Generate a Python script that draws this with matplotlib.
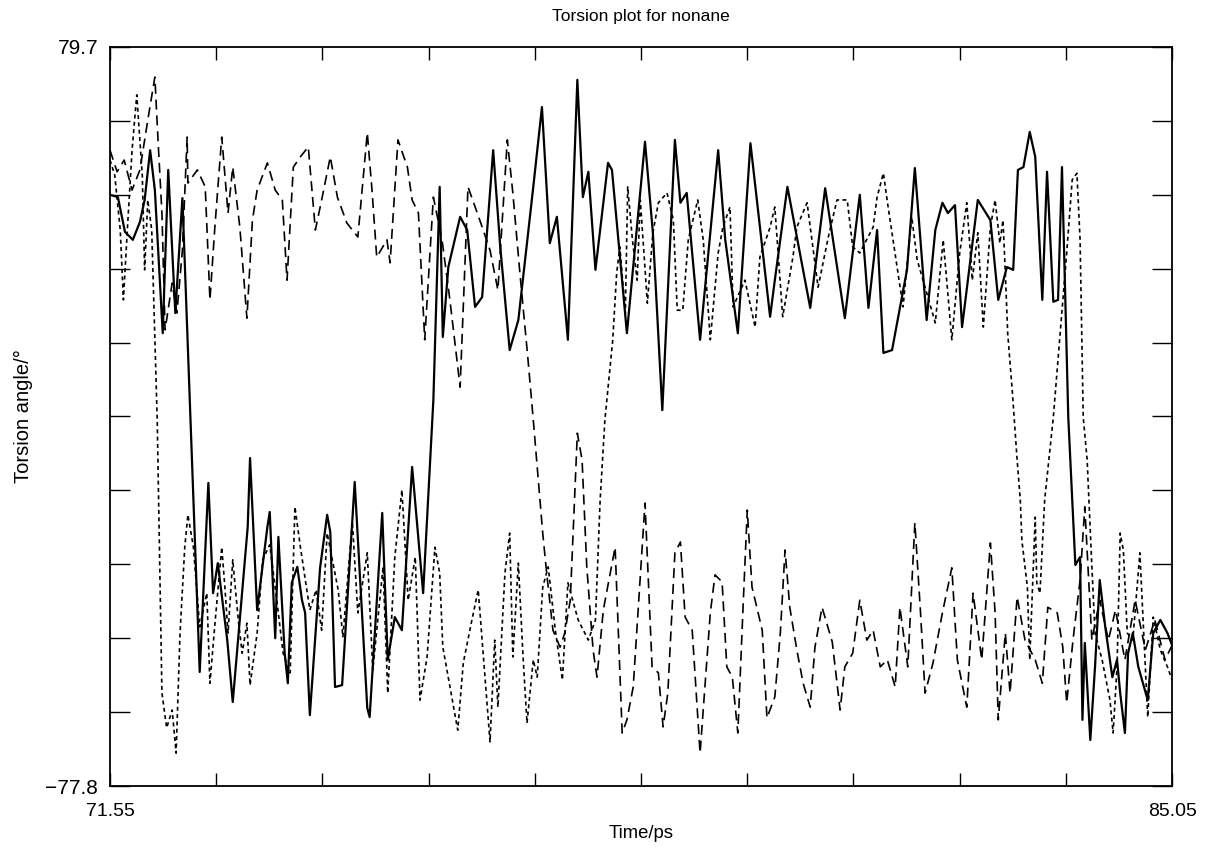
import matplotlib
matplotlib.use("Agg")
import matplotlib.pyplot as plt

# Torsion angles (degrees) of three C-C-C-C dihedrals of nonane vs time (ps),
# read off the original trajectory plot.

solid_t = [71.55, 71.65, 71.74, 71.84, 71.93, 71.99, 72.06, 72.12, 72.22, 72.29,
           72.38, 72.47, 72.69, 72.80, 72.86, 72.92, 73.04, 73.11, 73.30, 73.33,
           73.42, 73.55, 73.58, 73.65, 73.69, 73.77, 73.81, 73.86, 73.93, 73.99,
           74.03, 74.09, 74.22, 74.31, 74.35, 74.41, 74.50, 74.66, 74.82, 74.85,
           75.01, 75.08, 75.17, 75.26, 75.39, 75.53, 75.66, 75.74, 75.78, 75.85,
           76.00, 76.09, 76.19, 76.28, 76.42, 76.51, 76.63, 76.74, 76.93, 77.04,
           77.14, 77.23, 77.37, 77.49, 77.56, 77.63, 77.72, 77.88, 77.93, 78.12,
           78.35, 78.45, 78.57, 78.73, 78.80, 78.88, 79.05, 79.28, 79.37, 79.53,
           79.69, 79.94, 80.00, 80.16, 80.45, 80.64, 80.89, 81.08, 81.19, 81.30,
           81.38, 81.49, 81.68, 81.78, 81.93, 82.04, 82.13, 82.20, 82.29, 82.38,
           82.58, 82.74, 82.84, 82.95, 83.03, 83.09, 83.16, 83.24, 83.31, 83.40,
           83.46, 83.54, 83.60, 83.65, 83.73, 83.82, 83.88, 83.91, 83.94, 84.01,
           84.07, 84.13, 84.20, 84.29, 84.35, 84.39, 84.45, 84.49, 84.55, 84.62,
           84.74, 84.81, 84.90, 84.99, 85.05]
solid_a = [48.2, 47.7, 40.3, 38.6, 42.4, 47.1, 57.7, 49.2, 18.7, 53.5,
           23.0, 47.5, -53.5, -13.2, -36.7, -30.3, -46.7, -59.9, -22.6, -7.9,
           -40.3, -22.6, -19.4, -46.3, -24.7, -49.5, -55.9, -34.5, -31.1, -38.2,
           -40.9, -62.7, -31.3, -20.0, -23.7, -56.7, -56.3, -13.0, -61.2, -63.1,
           -19.6, -50.9, -41.8, -44.6, -9.8, -36.7, 4.5, 49.9, 17.9, 32.8,
           43.5, 40.7, 24.3, 26.4, 57.7, 37.1, 15.1, 21.5, 49.9, 66.9,
           37.9, 43.5, 17.3, 72.7, 47.7, 53.1, 32.2, 55.0, 53.5, 18.7,
           59.5, 40.1, 2.3, 59.9, 46.5, 48.6, 17.3, 57.7, 38.6, 18.7,
           59.2, 22.2, 30.0, 49.9, 24.1, 49.6, 21.9, 48.2, 24.1, 40.7,
           14.5, 15.1, 32.2, 53.9, 21.5, 40.7, 46.5, 44.3, 46.0, 20.0,
           47.1, 42.8, 25.8, 32.8, 32.2, 53.5, 54.1, 61.6, 56.3, 25.8,
           53.1, 25.4, 25.8, 54.1, 0.8, -30.7, -29.0, -63.7, -47.3, -68.0,
           -52.4, -33.9, -43.9, -54.6, -50.9, -58.0, -66.5, -49.5, -45.2, -52.4,
           -59.5, -45.2, -42.4, -45.2, -47.8]

dot_t = [71.55, 71.61, 71.68, 71.72, 71.77, 71.83, 71.89, 71.96, 71.99, 72.03,
         72.08, 72.15, 72.21, 72.27, 72.34, 72.39, 72.44, 72.50, 72.54, 72.61,
         72.69, 72.78, 72.82, 72.88, 72.97, 73.01, 73.05, 73.11, 73.18, 73.23,
         73.29, 73.33, 73.42, 73.49, 73.58, 73.67, 73.75, 73.84, 73.90, 73.97,
         74.09, 74.17, 74.24, 74.31, 74.45, 74.51, 74.63, 74.70, 74.82, 74.89,
         75.02, 75.08, 75.17, 75.26, 75.34, 75.43, 75.49, 75.58, 75.68, 75.74,
         75.78, 75.97, 76.04, 76.15, 76.23, 76.38, 76.44, 76.48, 76.57, 76.63,
         76.67, 76.74, 76.80, 76.85, 76.93, 76.98, 77.05, 77.12, 77.21, 77.30,
         77.37, 77.50, 77.63, 77.72, 77.78, 77.84, 77.94, 77.99, 78.03, 78.10,
         78.13, 78.19, 78.25, 78.29, 78.38, 78.45, 78.52, 78.63, 78.71, 78.76,
         78.83, 78.90, 79.02, 79.09, 79.18, 79.28, 79.34, 79.43, 79.47, 79.62,
         79.75, 79.81, 79.94, 80.00, 80.10, 80.23, 80.28, 80.41, 80.55, 80.68,
         80.79, 80.92, 80.99, 81.08, 81.25, 81.30, 81.38, 81.44, 81.63, 81.74,
         81.81, 82.04, 82.14, 82.25, 82.35, 82.44, 82.51, 82.58, 82.65, 82.74,
         82.80, 82.86, 82.90, 82.93, 82.96, 83.02, 83.08, 83.12, 83.14, 83.21,
         83.24, 83.31, 83.33, 83.37, 83.43, 83.54, 83.63, 83.71, 83.78, 83.84,
         83.88, 83.92, 83.97, 84.03, 84.07, 84.16, 84.26, 84.30, 84.35, 84.39,
         84.43, 84.48, 84.55, 84.64, 84.71, 84.74, 84.81, 84.90, 84.99, 85.05]
dot_a = [55.6, 52.4, 40.7, 25.8, 40.7, 57.7, 69.5, 52.4, 32.2, 47.1,
         40.7, 0.2, -58.0, -65.4, -61.6, -70.8, -45.2, -26.9, -20.0, -26.9,
         -43.9, -36.7, -55.9, -43.9, -26.9, -35.4, -45.2, -29.6, -42.4, -49.5,
         -43.1, -56.3, -45.2, -29.6, -26.4, -38.2, -49.5, -53.7, -18.3, -26.9,
         -40.3, -36.0, -44.6, -23.9, -36.0, -46.0, -21.5, -40.9, -28.1, -53.1,
         -31.1, -58.0, -29.0, -14.7, -38.2, -29.0, -59.5, -50.3, -26.9, -32.4,
         -48.2, -65.9, -51.6, -42.4, -36.0, -68.4, -46.7, -61.0, -32.4, -23.9,
         -50.3, -30.3, -50.3, -64.4, -50.9, -54.6, -35.4, -31.1, -44.6, -55.2,
         -34.5, -42.4, -46.7, -42.4, -16.8, 0.2, 17.3, 31.5, 37.1, 23.0,
         49.9, 38.6, 30.0, 47.1, 25.1, 40.1, 46.5, 48.6, 42.8, 23.6,
         23.6, 38.6, 47.1, 38.6, 17.3, 35.8, 41.3, 45.6, 24.3, 30.0,
         20.0, 34.9, 41.3, 45.6, 22.2, 34.9, 41.3, 46.5, 28.5, 39.2,
         47.1, 47.1, 37.1, 35.8, 41.3, 47.7, 52.8, 45.6, 24.3, 43.5,
         34.3, 20.9, 38.6, 17.3, 35.8, 46.5, 30.0, 40.1, 20.0, 41.3,
         47.1, 37.9, 42.8, 31.5, 18.7, 6.0, -8.3, -16.8, -25.4, -35.4,
         -50.9, -20.5, -34.5, -36.7, -16.8, 0.8, 19.4, 35.8, 51.4, 52.8,
         38.6, 0.8, -8.3, -31.1, -45.2, -50.9, -59.5, -66.5, -52.4, -23.9,
         -27.5, -45.2, -46.7, -28.1, -52.4, -63.1, -41.8, -48.8, -52.4, -55.2]

dash_t = [71.55, 71.64, 71.73, 71.83, 71.93, 72.03, 72.12, 72.16, 72.21, 72.25,
          72.34, 72.40, 72.47, 72.53, 72.54, 72.66, 72.76, 72.82, 72.88, 72.97,
          73.05, 73.11, 73.20, 73.29, 73.36, 73.42, 73.55, 73.65, 73.74, 73.80,
          73.88, 73.97, 74.07, 74.16, 74.24, 74.35, 74.44, 74.56, 74.70, 74.82,
          74.88, 74.94, 75.07, 75.11, 75.21, 75.33, 75.39, 75.47, 75.55, 75.66,
          75.77, 75.87, 76.00, 76.10, 76.25, 76.38, 76.48, 76.60, 76.67, 76.76,
          76.86, 76.93, 77.05, 77.10, 77.18, 77.27, 77.33, 77.40, 77.49, 77.55,
          77.61, 77.69, 77.74, 77.82, 77.97, 78.06, 78.12, 78.20, 78.35, 78.44,
          78.52, 78.58, 78.64, 78.73, 78.80, 78.86, 78.95, 79.05, 79.18, 79.24,
          79.33, 79.39, 79.46, 79.53, 79.60, 79.65, 79.71, 79.84, 79.90, 80.00,
          80.07, 80.13, 80.19, 80.28, 80.36, 80.45, 80.51, 80.60, 80.73, 80.83,
          80.89, 80.99, 81.08, 81.17, 81.25, 81.34, 81.43, 81.53, 81.59, 81.69,
          81.78, 81.85, 81.91, 82.01, 82.13, 82.25, 82.32, 82.44, 82.52, 82.63,
          82.74, 82.80, 82.84, 82.93, 82.99, 83.08, 83.18, 83.31, 83.40, 83.47,
          83.59, 83.66, 83.71, 83.79, 83.88, 83.94, 83.98, 84.03, 84.13, 84.24,
          84.33, 84.45, 84.58, 84.71, 84.83, 84.96, 85.05]
dash_a = [57.7, 53.1, 55.6, 49.2, 53.5, 64.1, 73.3, 59.9, 44.3, 19.4,
          29.4, 23.0, 36.4, 60.5, 50.7, 53.5, 49.9, 25.8, 40.7, 60.5,
          44.3, 54.1, 41.3, 21.9, 42.8, 49.2, 55.0, 49.2, 47.1, 30.0,
          54.1, 56.3, 58.4, 40.7, 47.1, 56.3, 47.7, 42.2, 39.2, 61.4,
          49.2, 34.9, 38.6, 33.7, 59.9, 54.1, 47.1, 44.3, 17.3, 47.7,
          38.6, 25.8, 7.2, 49.9, 42.8, 36.4, 27.9, 59.9, 48.6, 31.5,
          13.6, 0.2, -23.9, -32.4, -44.6, -48.2, -45.2, -38.2, -2.6, -8.3,
          -31.1, -48.8, -54.6, -40.3, -26.9, -66.5, -63.7, -56.7, -17.5, -52.4,
          -53.7, -65.2, -58.0, -28.1, -25.8, -41.8, -44.6, -70.8, -40.9, -32.8,
          -34.3, -52.4, -54.6, -66.5, -38.2, -19.0, -35.4, -44.6, -63.3, -58.8,
          -45.2, -27.5, -39.7, -48.8, -55.9, -61.0, -48.2, -39.7, -47.1, -61.6,
          -52.4, -49.5, -38.2, -46.7, -44.6, -52.4, -50.9, -56.7, -39.7, -52.4,
          -21.7, -40.3, -58.0, -51.6, -40.9, -31.3, -50.9, -61.0, -36.7, -50.9,
          -26.0, -40.9, -63.7, -45.2, -58.0, -37.5, -46.7, -50.9, -55.9, -39.7,
          -40.9, -48.2, -60.1, -46.7, -33.9, -18.3, -31.1, -46.7, -38.2, -46.7,
          -40.3, -50.9, -38.2, -48.8, -42.4, -50.9, -47.8]

t_min, t_max = 71.55, 85.05
a_min, a_max = -77.8, 79.7
x_labels = ["71.55", "", "", "", "", "", "", "", "", "", "85.05"]
y_labels = ["\u221277.8", "", "", "", "", "", "", "", "", "", "79.7"]


def main():
    plt.rcParams['font.family'] = ['Liberation Sans', 'DejaVu Sans']

    fig = plt.figure(figsize=(12.09, 8.48), dpi=100)
    ax = fig.add_axes([0.091, 0.0731, 0.8785, 0.8715])

    ax.plot(solid_t, solid_a, color='black', lw=1.6, solid_joinstyle='round')
    ax.plot(dash_t, dash_a, color='black', lw=1.2, dashes=(6, 3.5))
    ax.plot(dot_t, dot_a, color='black', lw=1.2, dashes=(2.4, 2))

    ax.set_xlim(t_min, t_max)
    ax.set_ylim(a_min, a_max)

    # 10 intervals on each axis, only the end values are labelled
    xt = [t_min + i * (t_max - t_min) / 10 for i in range(11)]
    yt = [a_min + i * (a_max - a_min) / 10 for i in range(11)]
    ax.set_xticks(xt, x_labels)
    ax.set_yticks(yt, y_labels)

    ax.tick_params(axis='x', direction='in', length=9.5, width=1.0,
                   top=True, labelsize=14, pad=12)
    ax.tick_params(axis='y', direction='in', length=14.5, width=1.0,
                   right=True, labelsize=15, pad=8.5)
    for s in ax.spines.values():
        s.set_linewidth(1.3)

    ax.set_title("Torsion plot for nonane", fontsize=12.5, pad=19)
    ax.set_xlabel("Time/ps", fontsize=13.3, va='center')
    ax.set_ylabel("Torsion angle/\u00b0", fontsize=14.5, va='center')
    ax.xaxis.set_label_coords(0.5, -0.0636)
    ax.yaxis.set_label_coords(-0.0815, 0.5)

    fig.savefig("out.png", dpi=100)


if __name__ == '__main__':

    main()
